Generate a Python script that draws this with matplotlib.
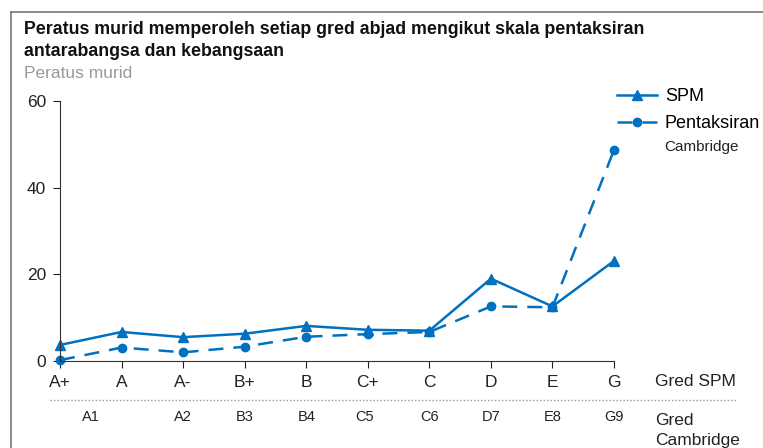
import matplotlib
matplotlib.use("Agg")
import matplotlib.pyplot as plt
from matplotlib import font_manager
from matplotlib.lines import Line2D

names = {f.name for f in font_manager.fontManager.ttflist}
font = "Liberation Sans Narrow" if "Liberation Sans Narrow" in names else "Liberation Sans"
plt.rcParams["font.family"] = [font, "DejaVu Sans"]

spm_grades = ["A+", "A", "A-", "B+", "B", "C+", "C", "D", "E", "G"]
cam_grades = ["A1", "A2", "B3", "B4", "C5", "C6", "D7", "E8", "G9"]
cam_pos = [0.5, 2, 3, 4, 4.95, 6, 7, 8, 9]
spm = [3.7, 6.7, 5.5, 6.3, 8.1, 7.2, 7.0, 19.0, 12.6, 23.1]
cambridge = [0.2, 3.1, 2.0, 3.3, 5.6, 6.2, 6.7, 12.6, 12.4, 48.7]

blue = "#0070C0"
txt = "#222222"

fig = plt.figure(figsize=(7.63, 4.48), dpi=100)
ax = fig.add_axes([60 / 763, 1 - 361 / 448, (614 - 60) / 763, 260 / 448])

x = range(len(spm_grades))
ax.plot(x, spm, "-^", color=blue, lw=1.8, ms=7, label="SPM", clip_on=False)
ax.plot(x, cambridge, "--o", color=blue, lw=1.8, ms=6, dashes=(6, 4),
        label="Pentaksiran", clip_on=False)

ax.set_xlim(0, 9)
ax.set_ylim(0, 60)
ax.set_yticks([0, 20, 40, 60])
ax.set_xticks(list(x))
ax.set_xticklabels(spm_grades)
ax.tick_params(axis="both", labelsize=12.5, length=5, width=0.8, colors=txt)
ax.tick_params(axis="x", pad=5)
ax.tick_params(axis="y", pad=5)
for s in ["top", "right"]:
    ax.spines[s].set_visible(False)
for s in ["left", "bottom"]:
    ax.spines[s].set_color("#333333")
    ax.spines[s].set_linewidth(0.8)

for p, g in zip(cam_pos, cam_grades):
    ax.text(p, -12.9, g, ha="center", va="center", fontsize=10.5,
            color=txt, transform=ax.transData, clip_on=False)

ax.legend(loc="upper left", bbox_to_anchor=(617 / 763, 1 - 88 / 448),
          bbox_transform=fig.transFigure, frameon=False, fontsize=13,
          handlelength=2.2, handletextpad=0.45, labelspacing=0.55,
          borderpad=0, borderaxespad=0)
fig.text(664 / 763, 1 - 147 / 448, "Cambridge", fontsize=11, va="center",
         color=txt)

fig.text(655 / 763, 1 - 382 / 448, "Gred SPM", fontsize=12.5, va="center",
         color=txt)
fig.text(655 / 763, 1 - 420 / 448, "Gred", fontsize=12.5, va="center",
         color=txt)
fig.text(655 / 763, 1 - 440 / 448, "Cambridge", fontsize=12.5, va="center",
         color=txt)

fig.text(24 / 763, 1 - 30 / 448, "Peratus murid memperoleh setiap gred abjad mengikut skala pentaksiran",
         fontsize=12.8, fontweight="bold", va="center", color="#111111")
fig.text(24 / 763, 1 - 51 / 448, "antarabangsa dan kebangsaan",
         fontsize=12.8, fontweight="bold", va="center", color="#111111")
fig.text(24 / 763, 1 - 73 / 448, "Peratus murid", fontsize=12.5, va="center",
         color="#999999")

# frame and divider
fig.add_artist(Line2D([11 / 763, 11 / 763], [0, 1 - 12 / 448], color="#777777",
                      lw=1.2, transform=fig.transFigure))
fig.add_artist(Line2D([11 / 763, 1], [1 - 12 / 448, 1 - 12 / 448], color="#777777",
                      lw=1.2, transform=fig.transFigure))
fig.add_artist(Line2D([50 / 763, 737 / 763], [1 - 400 / 448, 1 - 400 / 448],
                      color="#999999", lw=1, ls=(0, (1, 1.5)),
                      transform=fig.transFigure))

fig.savefig("out.png", dpi=100)
